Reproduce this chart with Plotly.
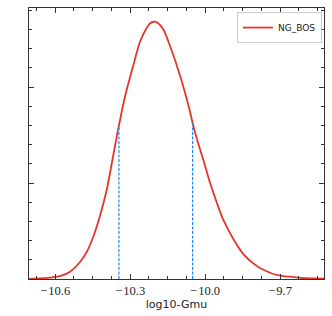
import plotly.graph_objects as go

# Posterior density of log10-Gmu
log10_gmu = [-10.705, -10.661, -10.621, -10.581, -10.541, -10.501, -10.474, -10.448,
             -10.421, -10.394, -10.374, -10.354, -10.343, -10.321, -10.287, -10.261,
             -10.234, -10.221, -10.205, -10.189, -10.167, -10.141, -10.101, -10.061,
             -10.050, -10.034, -10.007, -9.980, -9.954, -9.927, -9.887, -9.847,
             -9.793, -9.756, -9.727, -9.688, -9.660, -9.593, -9.524]
density = [0.002, 0.005, 0.015, 0.029, 0.076, 0.177, 0.281, 0.437,
           0.656, 0.927, 1.198, 1.479, 1.625, 1.896, 2.229, 2.469,
           2.615, 2.661, 2.680, 2.667, 2.599, 2.432, 2.125, 1.750,
           1.625, 1.469, 1.240, 1.000, 0.802, 0.615, 0.417, 0.260,
           0.135, 0.083, 0.052, 0.031, 0.024, 0.008, 0.003]

# 68% interval bounds and curve height there
interval_x = [-10.345, -10.050]
interval_y = [1.61, 1.625]

x_ticks = [-10.6, -10.3, -10.0, -9.7]
x_tick_text = ["\u2212\u200a10.6", "\u2212\u200a10.3", "\u2212\u200a10.0", "\u2212\u200a9.7"]

fig = go.Figure()
fig.add_trace(go.Scatter(x=log10_gmu, y=density, mode="lines", name="NG_BOS",
                         line=dict(color="#e5362b", width=1.8, shape="spline", smoothing=0.8)))
vx, vy = [], []
for xv, yv in zip(interval_x, interval_y):
    vx += [xv, xv, None]
    vy += [0, yv, None]
fig.add_trace(go.Scatter(x=vx, y=vy, mode="lines", showlegend=False, connectgaps=False,
                         line=dict(color="#1e86ff", width=1.2, dash="3px,1.5px")))

axis_common = dict(showgrid=False, zeroline=False, showline=True, linecolor="#333333",
                   linewidth=1, mirror="allticks", ticks="inside", tickcolor="#333333",
                   ticklen=5, tickwidth=1, showspikes=False)

fig.update_xaxes(range=[-10.705, -9.524], tickvals=x_ticks, ticktext=x_tick_text,
                 tickfont=dict(family="Liberation Serif", size=12.5, color="#222222"),
                 minor=dict(dtick=0.075, tick0=-10.6, ticks="inside", ticklen=3,
                            tickcolor="#333333", tickwidth=1),
                 title=dict(text="log10-Gmu", font=dict(family="DejaVu Sans", size=11, color="#222222"),
                            standoff=2),
                 **axis_common)
fig.update_yaxes(range=[0, 2.823], dtick=1, tick0=0, showticklabels=False,
                 minor=dict(dtick=0.2, ticks="inside", ticklen=3,
                            tickcolor="#333333", tickwidth=1),
                 **axis_common)

fig.update_layout(
    width=332, height=316,
    margin=dict(l=29, r=8, t=8, b=37),
    plot_bgcolor="white", paper_bgcolor="white",
    hovermode=False,
    legend=dict(x=0.993, y=0.985, xanchor="right", yanchor="top",
                bordercolor="#cccccc", borderwidth=1, bgcolor="white",
                font=dict(family="DejaVu Sans", size=9, color="#222222"),
                itemwidth=30, tracegroupgap=0),
)

fig.write_html("out.html", config={"displayModeBar": False, "staticPlot": True},
               post_script="document.body.style.margin='0';")
